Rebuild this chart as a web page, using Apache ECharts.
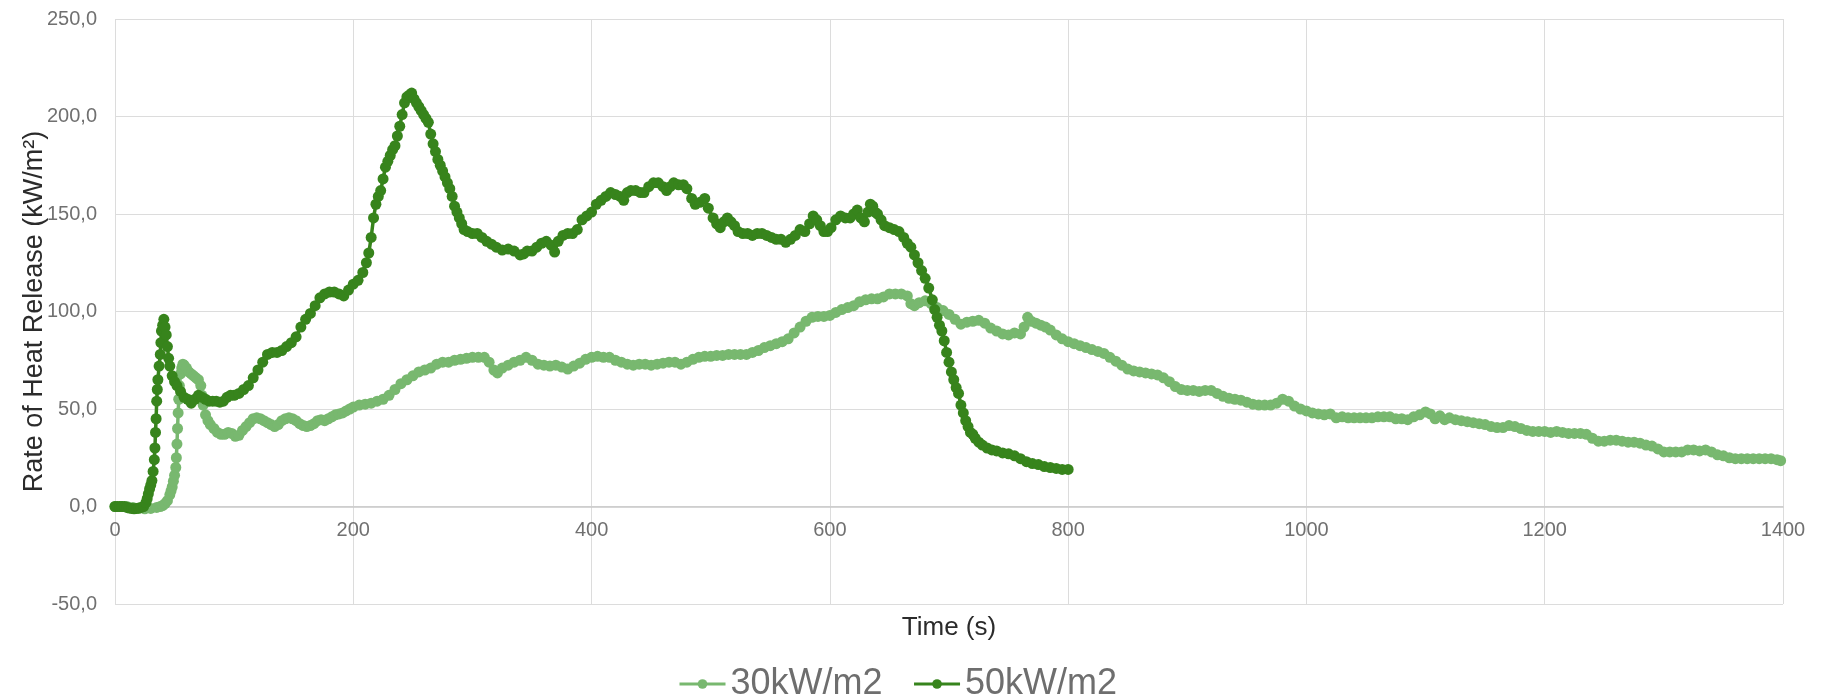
<!DOCTYPE html>
<html>
<head>
<meta charset="utf-8">
<script src="https://cdn.jsdelivr.net/npm/echarts@6/dist/echarts.min.js"></script>
<style>
html,body{margin:0;padding:0;background:#fff;}
#chart{width:1825px;height:700px;}
</style>
</head>
<body>
<div id="chart"></div>
<script>
// ---- data (time s, rate of heat release kW/m2) ----
const seriesNames = ['30kW/m2', '50kW/m2'];
const xTicks = { min: 0, max: 1400, step: 200 };
const yTicks = { min: -50, max: 250, step: 50 };
const xTitle = 'Time (s)';
const yTitle = 'Rate of Heat Release (kW/m²)';

const hrr30 = [
[0,0],[5,0],[10,0],[15,-0.5],[20,-1],[25,-1.2],[30,-1],[35,-0.5],[38,0],[40,0.5],[42,1.5],[44,3],[46,6],[47,8],[48,10],[49,13],[50,16],[51,20],[51.5,25],[52,32],[52.5,40],[53,48],[53.5,55],[54,62],[55,68],[56,71],[57,73],[58,72.5],[60,71],[62,69],[64,68],[66,67],[68,66],[70,65],[72,62],[73,57],[74,52],[76,47],[78,44],[80,42],[83,40],[86,38],[89,37],[92,37],[95,38],[98,37.5],[101,36],[104,36.5],[107,39],[110,41],[113,43],[116,45],[119,45.5],[122,45],[125,44],[128,43],[131,42],[134,41],[137,42],[140,44],[143,45],[146,45.5],[149,45],[152,44],[155,42.5],[158,41.5],[161,41],[164,41.5],[167,42.5],[170,44],[173,44.5],[176,44],[179,45],[182,46],[185,47],[188,47.5],[191,48],[194,49],[197,50],[200,51],[205,52],[210,52.5],[215,53],[220,54],[225,55],[230,57],[235,60],[240,63],[245,65],[250,67],[255,69],[260,70],[265,71],[270,73],[275,74],[280,74],[285,75],[290,75.5],[295,76],[300,76.5],[305,76.5],[310,76.5],[314,74],[318,70],[321,68.5],[325,71],[330,72.5],[335,74],[340,75],[345,76.5],[350,75],[355,73],[360,72.5],[365,72],[370,72.5],[375,71.5],[380,70.5],[385,72],[390,73.5],[395,75.5],[400,76.5],[405,77],[410,76.5],[415,76.5],[420,75],[425,74],[430,73],[435,72.5],[440,73],[445,73],[450,72.5],[455,73],[460,73.5],[465,74],[470,74],[475,73],[480,74],[485,75.5],[490,76.5],[495,77],[500,77],[505,77.5],[510,77.5],[515,78],[520,78],[525,78],[530,78],[535,79],[540,80],[545,81.5],[550,82.5],[555,83.5],[560,84.5],[565,86],[570,89],[575,92],[580,95],[585,97],[590,97.5],[595,97.5],[600,98],[605,99.5],[610,101],[615,102],[620,103],[625,105],[630,106],[635,106.5],[640,106.5],[645,107.5],[650,109],[655,109],[660,109],[665,108],[668,104],[671,103],[675,104.5],[680,105.5],[685,104],[690,102],[695,100.5],[700,98.5],[705,96],[710,93.5],[715,94.5],[720,95],[725,95.5],[730,94],[735,91.5],[740,90],[745,88.5],[750,88],[755,89],[760,88.5],[763,92],[766,97],[769,95],[773,94],[777,93],[781,92],[785,90.5],[790,88],[795,86],[800,84.5],[805,83.5],[810,82.5],[815,81.5],[820,80.5],[825,79.5],[830,78.5],[835,76.5],[840,74.5],[845,72.5],[850,70.5],[855,69.5],[860,69],[865,68.5],[870,68],[875,67.5],[880,66],[885,64],[890,61.5],[895,60],[900,59.5],[905,59.5],[910,59],[915,59.5],[920,59.5],[925,58],[930,56.5],[935,55.5],[940,55],[945,54.5],[950,53.5],[955,52.5],[960,52],[965,52],[970,52],[975,53],[980,55],[985,54],[990,51.5],[995,50],[1000,49],[1005,48],[1010,47.5],[1015,47],[1020,47.5],[1025,45.5],[1030,46],[1035,45.5],[1040,45.5],[1045,45.5],[1050,45.5],[1055,45.5],[1060,46],[1065,46],[1070,46],[1075,45],[1080,45],[1085,44.5],[1090,46],[1095,47],[1100,48.5],[1104,47.5],[1108,45],[1112,46.5],[1116,44.5],[1120,45.5],[1125,44.5],[1130,44],[1135,43.5],[1140,43],[1145,42.5],[1150,42],[1155,41],[1160,40.5],[1165,40.5],[1170,41.5],[1175,41],[1180,40],[1185,39],[1190,38.5],[1195,38.5],[1200,38.5],[1205,38],[1210,38.5],[1215,38],[1220,37.5],[1225,37.5],[1230,37.5],[1235,37],[1240,35],[1245,33.5],[1250,33.5],[1255,34],[1260,34],[1265,33.5],[1270,33],[1275,33],[1280,32.5],[1285,31.5],[1290,31],[1295,29.5],[1300,28],[1305,28],[1310,28],[1315,28],[1320,29],[1325,29],[1330,28.5],[1335,29],[1340,28],[1345,26.5],[1350,26],[1355,25],[1360,24.5],[1365,24.5],[1370,24.5],[1375,24.5],[1380,24.5],[1385,24.5],[1390,24.5],[1395,24],[1398,23.5]
];

const hrr50 = [
[0,0],[2,0],[4,0],[6,0],[8,0],[10,-0.5],[12,-0.8],[14,-1],[16,-1.2],[18,-1],[20,-0.8],[22,-0.5],[24,0],[26,2],[27,4],[28,6.5],[29,9],[30,11],[31,13.3],[32,18],[33,24],[33.5,30],[34,38],[34.5,45],[35,54],[35.5,60],[36,65],[37,72],[38,78],[38.5,84],[39,90],[40,93],[41,96],[42,92],[43,88],[44,82],[45,76],[46,72],[48,67],[50,64],[52,62],[55,59],[58,56],[61,55],[64,53],[67,55],[70,57],[73,56],[76,55],[79,54],[82,54],[85,54],[88,53.5],[91,54],[94,56],[97,57],[100,57],[104,58],[108,60],[112,62],[116,66],[120,70],[124,74],[128,78],[132,79],[136,79],[140,80],[144,82],[148,84],[152,87],[156,92],[160,96],[164,99],[168,103],[172,107],[176,109],[180,110],[184,110],[188,109],[192,108],[196,111],[200,114],[204,116],[208,120],[211,125],[213,130],[215,138],[217,148],[219,155],[221,159],[223,162],[225,168],[227,174],[229,177],[231,180],[233,183],[235,185],[237,190],[239,195],[241,201],[243,207],[245,210],[247,211],[249,212],[251,209],[253,207],[255,205],[257,203],[259,201],[261,199],[263,197],[265,191],[267,186],[269,182],[271,178],[273,175],[275,172],[277,169],[279,166],[281,163],[283,159],[285,154],[287,151],[289,148],[291,145],[293,142],[296,141],[300,140],[304,140],[308,138],[312,136],[316,134.5],[320,133],[325,131.5],[330,132],[335,131],[340,129],[343,129.5],[346,131],[350,131],[354,133],[358,135],[362,136],[366,134],[369,130.5],[372,136],[376,139],[380,140],[384,140],[388,142],[392,147],[396,149],[400,151],[404,155],[408,157],[412,159],[416,161],[420,160],[424,159],[427,157],[430,161],[433,162],[437,162],[441,161],[444,161],[448,164],[452,166],[456,166],[460,164],[463,162],[466,164],[469,166],[473,165],[477,165],[480,163],[484,158],[487,155],[491,156],[495,158],[498,153],[502,148],[505,145],[508,143],[511,146],[514,148],[517,146],[520,144],[523,141],[527,140],[531,140],[535,139],[539,140],[543,140],[547,139],[551,138],[555,137],[559,137],[563,135.5],[567,137],[571,139],[575,142],[579,141],[583,145],[586,149],[589,147],[592,144],[595,141],[598,141],[601,143],[605,147],[609,149],[613,148],[617,148],[620,150],[623,152],[626,148],[629,146],[632,151],[634,155],[636,154],[638,151],[640,150],[643,147],[646,144],[650,143],[654,142],[658,141],[662,138],[665,135],[668,133],[671,129],[674,125],[677,121],[680,117],[683,112],[686,106],[688,101],[690,97],[692,93],[694,90],[696,85],[698,79],[700,74],[702,69],[704,65],[706,61],[708,58],[710,52],[712,48],[714,44],[716,41],[718,38],[720,37],[722,35],[725,33],[728,31.5],[732,30],[736,29],[740,28.5],[745,27.5],[750,27],[755,26],[760,24.5],[765,23],[770,22],[775,21.5],[780,20.5],[785,20],[790,19.5],[795,19],[800,19]
];

const seriesColors = ['#78b86f', '#37841c'];

const chart = echarts.init(document.getElementById('chart'), null, { renderer: 'canvas' });
const FONT = '"Liberation Sans", Arial, sans-serif';

const GRID = { left: 115, right: 42, top: 19, bottom: 96 };
const plotH = 700 - GRID.top - GRID.bottom;
// distance from grid bottom (y = -50) up to the y = 0 line
const zeroOffset = -plotH * (0 - yTicks.min) / (yTicks.max - yTicks.min);

function mkSeries(name, data, color) {
  return {
    name: name,
    type: 'line',
    data: data,
    symbol: 'circle',
    symbolSize: 11,
    showSymbol: true,
    lineStyle: { color: color, width: 3.5 },
    itemStyle: { color: color, borderWidth: 0 },
    emphasis: { disabled: true },
    animation: false
  };
}

chart.setOption({
  animation: false,
  backgroundColor: '#ffffff',
  grid: Object.assign({ containLabel: false, outerBoundsMode: 'none' }, GRID),
  legend: {
    data: seriesNames,
    left: 673,
    top: 661,
    itemWidth: 46,
    itemHeight: 12,
    itemGap: 30,
    lineStyle: { width: 3 },
    textStyle: { fontSize: 36, color: '#6e6e6e', fontFamily: FONT }
  },
  graphic: [{
    type: 'text',
    x: (GRID.left + 1825 - GRID.right) / 2,
    y: 628,
    style: {
      text: xTitle,
      fontSize: 26,
      fontFamily: FONT,
      fill: '#2b2b2b',
      align: 'center',
      verticalAlign: 'middle'
    }
  }],
  xAxis: {
    type: 'value',
    min: xTicks.min,
    max: xTicks.max,
    interval: xTicks.step,
    offset: zeroOffset,
    axisLine: { show: true, onZero: false, lineStyle: { color: '#c9c9c9', width: 1.5 } },
    axisTick: { show: false },
    axisLabel: { fontSize: 20, color: '#707070', margin: 14, fontFamily: FONT, formatter: v => String(v) },
    splitLine: { show: true, lineStyle: { color: '#dcdcdc', width: 1 } }
  },
  yAxis: {
    type: 'value',
    min: yTicks.min,
    max: yTicks.max,
    interval: yTicks.step,
    name: yTitle,
    nameLocation: 'middle',
    nameGap: 67,
    nameMoveOverlap: false,
    nameTextStyle: { fontSize: 27, color: '#2b2b2b', fontFamily: FONT },
    axisLine: { show: false },
    axisTick: { show: false },
    axisLabel: {
      fontSize: 20, color: '#707070', margin: 18, fontFamily: FONT,
      formatter: v => v.toFixed(1).replace('.', ',')
    },
    splitLine: { show: true, lineStyle: { color: '#dcdcdc', width: 1 } }
  },
  series: [
    mkSeries(seriesNames[0], hrr30, seriesColors[0]),
    mkSeries(seriesNames[1], hrr50, seriesColors[1])
  ]
});
</script>
</body>
</html>
